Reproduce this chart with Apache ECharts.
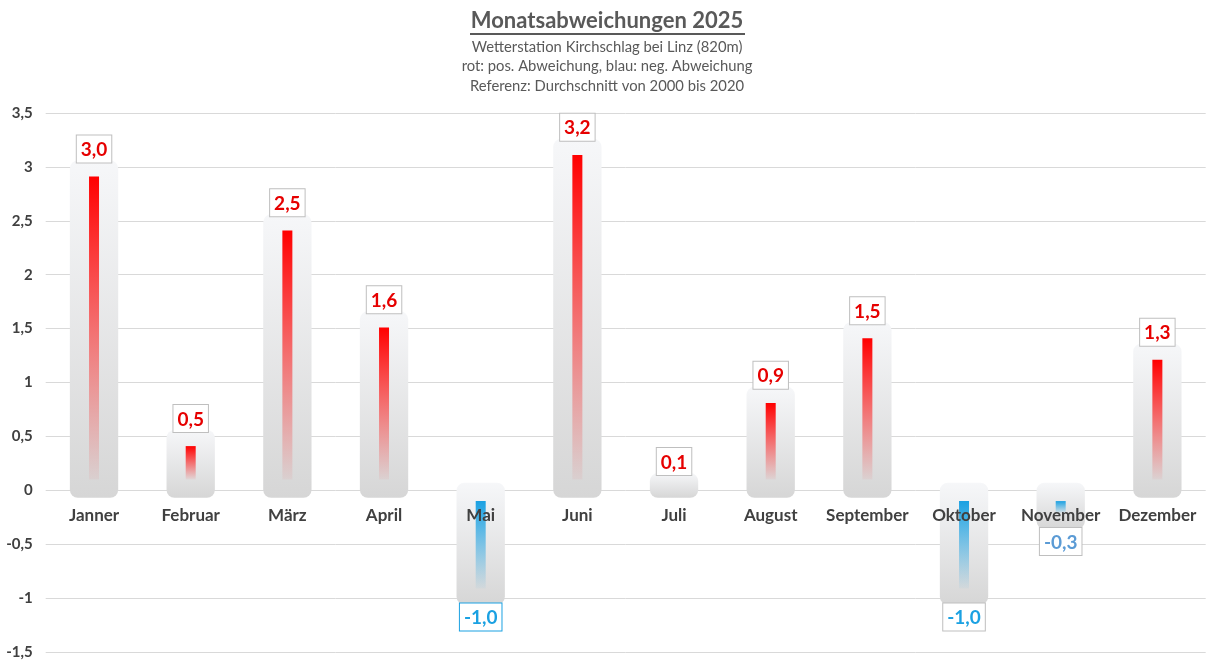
<!DOCTYPE html>
<html>
<head>
<meta charset="utf-8">
<script src="https://cdn.jsdelivr.net/npm/echarts@6/dist/echarts.min.js"></script>
<style>
html,body{margin:0;padding:0;background:#fff;}
#c{width:1214px;height:667px;}
</style>
</head>
<body>
<div id="c"></div>
<script>
const months = ['Janner','Februar','März','April','Mai','Juni','Juli','August','September','Oktober','November','Dezember'];
const deviations = [3.0, 0.5, 2.5, 1.6, -1.0, 3.2, 0.1, 0.9, 1.5, -1.0, -0.3, 1.3];
const yTicks = {min: -1.5, max: 3.5, interval: 0.5};

// per-label styling (not data)
const labelStyle = {
  4: {color: '#1ba1e2', border: '#1ba1e2'},
  9: {color: '#1ba1e2', border: '#bfbfbf'},
  10: {color: '#5b9bd5', border: '#bfbfbf'}
};
const FONT = 'Lato, "Open Sans", sans-serif';

const chart = echarts.init(document.getElementById('c'));
const fmt = v => String(v).replace('.', ',');

chart.setOption({
  backgroundColor: '#fff',
  animation: false,
  title: {
    text: 'Monatsabweichungen 2025',
    subtext: 'Wetterstation Kirchschlag bei Linz (820m)\nrot: pos. Abweichung, blau: neg. Abweichung\nReferenz: Durchschnitt von 2000 bis 2020',
    left: 'center',
    top: 5,
    itemGap: 5,
    textStyle: {fontFamily: FONT, fontSize: 22, fontWeight: 'bold', color: '#595959'},
    subtextStyle: {fontFamily: FONT, fontSize: 14.8, color: '#595959', lineHeight: 19.7}
  },
  graphic: [{
    type: 'line', shape: {x1: 470, y1: 34, x2: 745, y2: 34},
    style: {stroke: '#595959', lineWidth: 2}
  }],
  grid: {left: 45.7, right: 8.3, top: 113, bottom: 15, outerBoundsMode: 'none', containLabel: false},
  xAxis: {
    type: 'category',
    data: months,
    axisLine: {show: false},
    axisTick: {show: false},
    axisLabel: {show: false}
  },
  yAxis: {
    type: 'value',
    min: yTicks.min, max: yTicks.max, interval: yTicks.interval,
    axisLine: {show: false},
    axisTick: {show: false},
    splitLine: {lineStyle: {color: '#d9d9d9', width: 1}},
    axisLabel: {fontFamily: FONT, fontSize: 15, fontWeight: 'bold', color: '#404040', margin: 13,
      formatter: v => fmt(v)}
  },
  series: [{
    type: 'custom',
    data: deviations.map((v, i) => [i, v]),
    renderItem: function (params, api) {
      const i = api.value(0), v = api.value(1);
      const s = v >= 0 ? 1 : -1;
      const band = api.size([1, 0])[0];
      const zero = api.coord([i, 0]);
      const cx = zero[0];
      const capW = band * 0.5;
      const pTop = api.coord([i, v + s * 0.06]);
      const pBot = api.coord([i, -s * 0.07]);
      const y0 = Math.min(pTop[1], pBot[1]);
      const h = Math.abs(pTop[1] - pBot[1]);
      const children = [{
        type: 'rect',
        shape: {x: cx - capW / 2, y: y0, width: capW, height: h, r: 8},
        style: {
          fill: new echarts.graphic.LinearGradient(0, 0, 0, 1, [
            {offset: 0, color: '#f6f7f9'},
            {offset: 1, color: '#d6d6d6'}
          ])
        }
      }];
      if (Math.abs(v) > 0.19) {
        const a = api.coord([i, v - s * 0.09]);
        const b = api.coord([i, s * 0.1]);
        const col = s > 0 ? '255,0,0' : '27,161,226';
        const iw = 10;
        children.push({
          type: 'rect',
          shape: {x: cx - iw / 2, y: Math.min(a[1], b[1]), width: iw, height: Math.abs(a[1] - b[1])},
          style: {
            fill: new echarts.graphic.LinearGradient(0, 0, 0, 1, [
              {offset: 0, color: 'rgba(' + col + ',1)'},
              {offset: 1, color: 'rgba(' + col + ',0.04)'}
            ])
          }
        });
      }
      // category label at the zero line
      children.push({
        type: 'text',
        x: cx,
        y: zero[1] + 17,
        z2: 20,
        style: {
          text: months[i],
          fontFamily: FONT, fontSize: 17, fontWeight: 'bold',
          fill: '#404040', align: 'center', verticalAlign: 'top'
        }
      });
      const ls = labelStyle[i] || {color: '#e60000', border: '#bfbfbf'};
      children.push({
        type: 'text',
        x: cx,
        y: s > 0 ? pTop[1] + 2 : api.coord([i, v - 0.05])[1],
        z2: 30,
        style: {
          text: fmt(v.toFixed(1)),
          fontFamily: FONT, fontSize: 19, fontWeight: 'bold',
          fill: ls.color,
          align: 'center',
          verticalAlign: s > 0 ? 'bottom' : 'top',
          backgroundColor: '#fff',
          borderColor: ls.border, borderWidth: 1,
          padding: [5, 4, 3, 4]
        }
      });
      return {type: 'group', children: children};
    }
  }]
});
</script>
</body>
</html>
